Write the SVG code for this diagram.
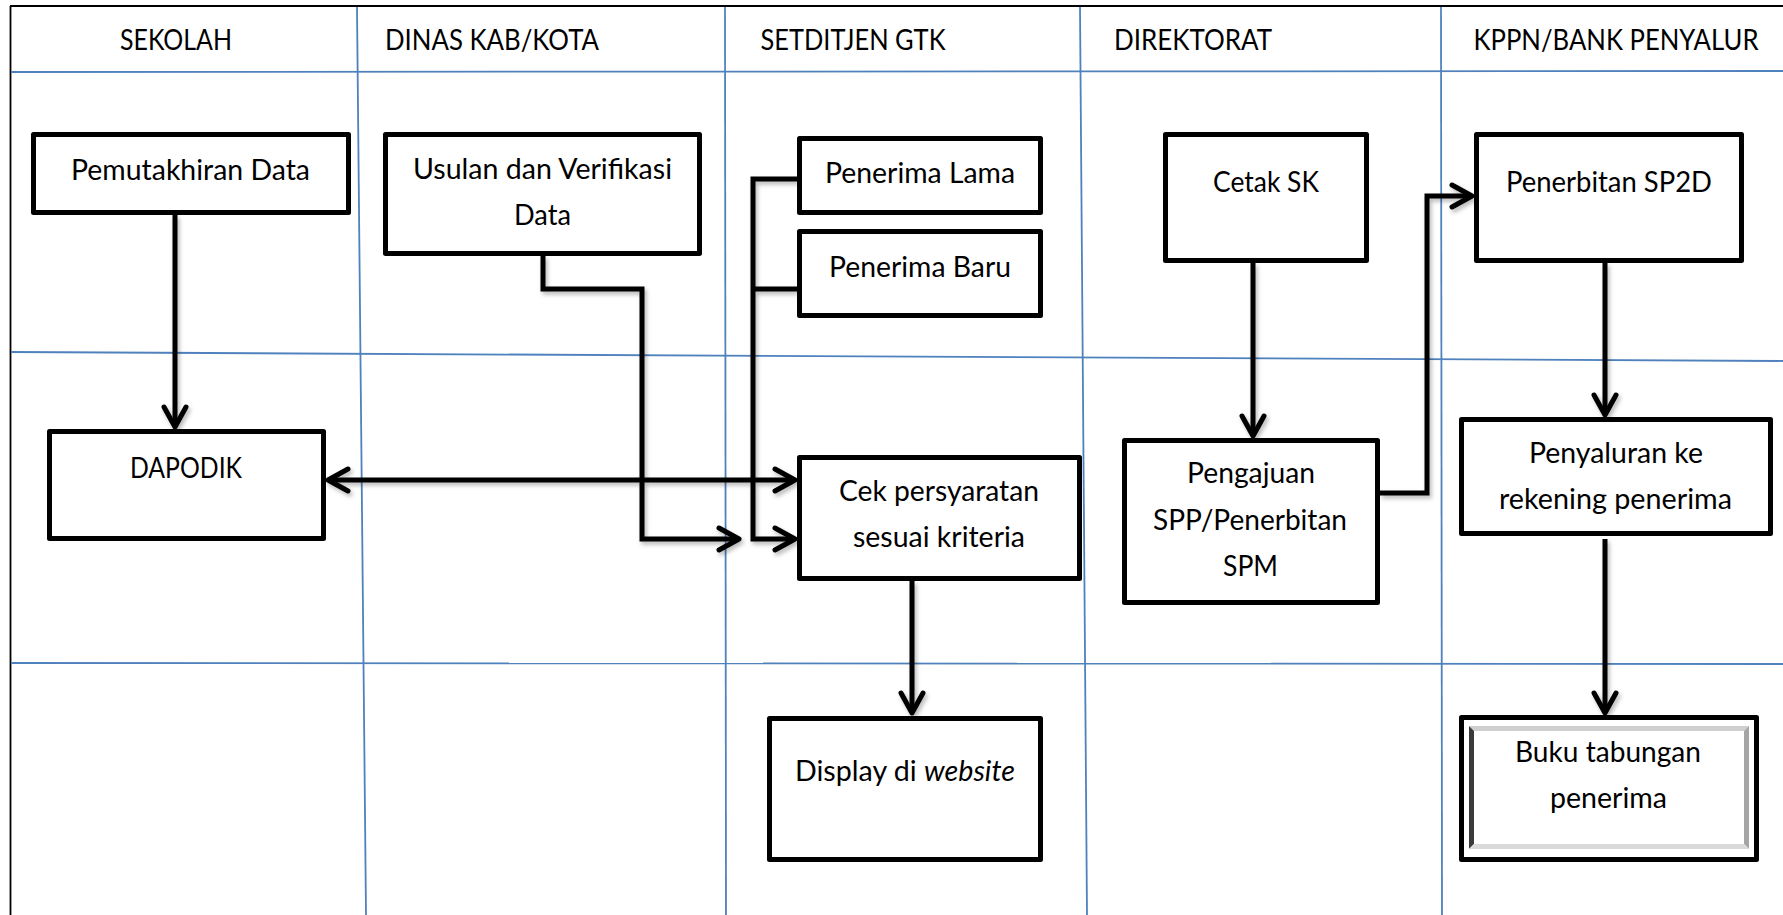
<svg xmlns="http://www.w3.org/2000/svg" width="1783" height="915" viewBox="0 0 1783 915">
<style>
.grid{stroke:#4f81bd;stroke-width:1.8;fill:none}
.border{stroke:#000;stroke-width:1.8;fill:none}
.box{fill:#fff;stroke:#000;stroke-width:5;stroke-linejoin:round}
.conn{fill:none;stroke:#000;stroke-width:5;stroke-linejoin:miter}
.t{font-family:Lato,"Open Sans","Liberation Sans",sans-serif;font-size:29.5px;fill:#000;text-anchor:middle}
</style>
<defs>
<marker id="arr" viewBox="-26 -16 32 32" refX="0" refY="0" markerWidth="32" markerHeight="32" markerUnits="userSpaceOnUse" orient="auto-start-reverse" overflow="visible">
<path d="M-20,-11 L0,0 L-20,11" fill="none" stroke="#000" stroke-width="5" stroke-linecap="round" stroke-linejoin="round"/>
</marker>
<filter id="sh" x="-10%" y="-10%" width="120%" height="120%">
<feDropShadow dx="2" dy="3" stdDeviation="2" flood-color="#000" flood-opacity="0.28"/>
</filter>
</defs>
<rect x="0" y="0" width="1783" height="915" fill="#fff"/>
<g id="grid">
<line class="border" x1="10" y1="6" x2="1783" y2="6"/>
<line class="border" x1="10.5" y1="6" x2="10.5" y2="915"/>
<line class="grid" x1="11" y1="72" x2="1783" y2="71"/>
<line class="grid" x1="11" y1="352" x2="1783" y2="361"/>
<line class="grid" x1="11" y1="663" x2="1783" y2="664"/>
<line class="grid" x1="357" y1="7" x2="366" y2="915"/>
<line class="grid" x1="725" y1="7" x2="726" y2="915"/>
<line class="grid" x1="1080" y1="7" x2="1087" y2="915"/>
<line class="grid" x1="1441" y1="7" x2="1442" y2="915"/>
</g>
<g id="headers">
<text class="t" x="176" y="50" textLength="112" lengthAdjust="spacingAndGlyphs">SEKOLAH</text>
<text class="t" x="492" y="50" textLength="214" lengthAdjust="spacingAndGlyphs">DINAS KAB/KOTA</text>
<text class="t" x="853" y="50" textLength="185" lengthAdjust="spacingAndGlyphs">SETDITJEN GTK</text>
<text class="t" x="1193" y="50" textLength="158" lengthAdjust="spacingAndGlyphs">DIREKTORAT</text>
<text class="t" x="1616" y="50" textLength="285" lengthAdjust="spacingAndGlyphs">KPPN/BANK PENYALUR</text>
</g>
<g id="connectors" filter="url(#sh)">
<path class="conn" d="M175,215 V427" marker-end="url(#arr)"/>
<path class="conn" d="M543,256 V289 H642 V539 H739" marker-end="url(#arr)"/>
<path class="conn" d="M797,179 H753 V539 H795" marker-end="url(#arr)"/>
<path class="conn" d="M753,289 H797"/>
<path class="conn" d="M328,480 H795" marker-start="url(#arr)" marker-end="url(#arr)"/>
<path class="conn" d="M912,581 V713" marker-end="url(#arr)"/>
<path class="conn" d="M1253,263 V436" marker-end="url(#arr)"/>
<path class="conn" d="M1380,493 H1427 V196 H1472" marker-end="url(#arr)"/>
<path class="conn" d="M1605,263 V415" marker-end="url(#arr)"/>
<path class="conn" d="M1605,539 V713" marker-end="url(#arr)"/>
</g>
<g id="n-pemutakhiran">
<rect class="box" x="33.5" y="134.5" width="315" height="78"/>
<text class="t" x="190.5" y="180" textLength="239" lengthAdjust="spacingAndGlyphs">Pemutakhiran Data</text>
</g>
<g id="n-usulan">
<rect class="box" x="385.5" y="134.5" width="314" height="119"/>
<text class="t" x="542.5" y="179" textLength="259" lengthAdjust="spacingAndGlyphs">Usulan dan Verifikasi</text>
<text class="t" x="542.5" y="225" textLength="57" lengthAdjust="spacingAndGlyphs">Data</text>
</g>
<g id="n-penerima-lama">
<rect class="box" x="799.5" y="138.5" width="241" height="74"/>
<text class="t" x="920" y="183" textLength="190" lengthAdjust="spacingAndGlyphs">Penerima Lama</text>
</g>
<g id="n-penerima-baru">
<rect class="box" x="799.5" y="231.5" width="241" height="84"/>
<text class="t" x="920" y="277" textLength="182" lengthAdjust="spacingAndGlyphs">Penerima Baru</text>
</g>
<g id="n-cetak-sk">
<rect class="box" x="1165.5" y="134.5" width="201" height="126"/>
<text class="t" x="1266" y="192" textLength="106" lengthAdjust="spacingAndGlyphs">Cetak SK</text>
</g>
<g id="n-sp2d">
<rect class="box" x="1476.5" y="134.5" width="265" height="126"/>
<text class="t" x="1609" y="192" textLength="206" lengthAdjust="spacingAndGlyphs">Penerbitan SP2D</text>
</g>
<g id="n-dapodik">
<rect class="box" x="49.5" y="431.5" width="274" height="107"/>
<text class="t" x="186" y="478" textLength="112" lengthAdjust="spacingAndGlyphs">DAPODIK</text>
</g>
<g id="n-cek">
<rect class="box" x="799.5" y="457.5" width="280" height="121"/>
<text class="t" x="939" y="501" textLength="200" lengthAdjust="spacingAndGlyphs">Cek persyaratan</text>
<text class="t" x="939" y="547" textLength="172" lengthAdjust="spacingAndGlyphs">sesuai kriteria</text>
</g>
<g id="n-pengajuan">
<rect class="box" x="1124.5" y="440.5" width="253" height="162"/>
<text class="t" x="1251" y="483" textLength="128" lengthAdjust="spacingAndGlyphs">Pengajuan</text>
<text class="t" x="1250" y="530" textLength="194" lengthAdjust="spacingAndGlyphs">SPP/Penerbitan</text>
<text class="t" x="1250.5" y="576" textLength="55" lengthAdjust="spacingAndGlyphs">SPM</text>
</g>
<g id="n-penyaluran">
<rect class="box" x="1461.5" y="419.5" width="309" height="114"/>
<text class="t" x="1616" y="463" textLength="174" lengthAdjust="spacingAndGlyphs">Penyaluran ke</text>
<text class="t" x="1615.5" y="509" textLength="233" lengthAdjust="spacingAndGlyphs">rekening penerima</text>
</g>
<g id="n-display">
<rect class="box" x="769.5" y="718.5" width="271" height="141"/>
<text class="t" x="905" y="781" textLength="220" lengthAdjust="spacingAndGlyphs">Display di <tspan font-style="italic">website</tspan></text>
</g>
<g id="n-buku">
<rect class="box" x="1461.5" y="717.5" width="295" height="142"/>
<polygon points="1469,726 1749,726 1744,731 1474,731" fill="#cfcfcf"/>
<polygon points="1469,726 1474,731 1474,844 1469,849" fill="#3a3a3a"/>
<polygon points="1749,726 1749,849 1744,844 1744,731" fill="#a5a5a5"/>
<polygon points="1469,849 1749,849 1744,844 1474,844" fill="#dadada"/>
<text class="t" x="1608" y="762" textLength="186" lengthAdjust="spacingAndGlyphs">Buku tabungan</text>
<text class="t" x="1608.5" y="808" textLength="117" lengthAdjust="spacingAndGlyphs">penerima</text>
</g>
</svg>
